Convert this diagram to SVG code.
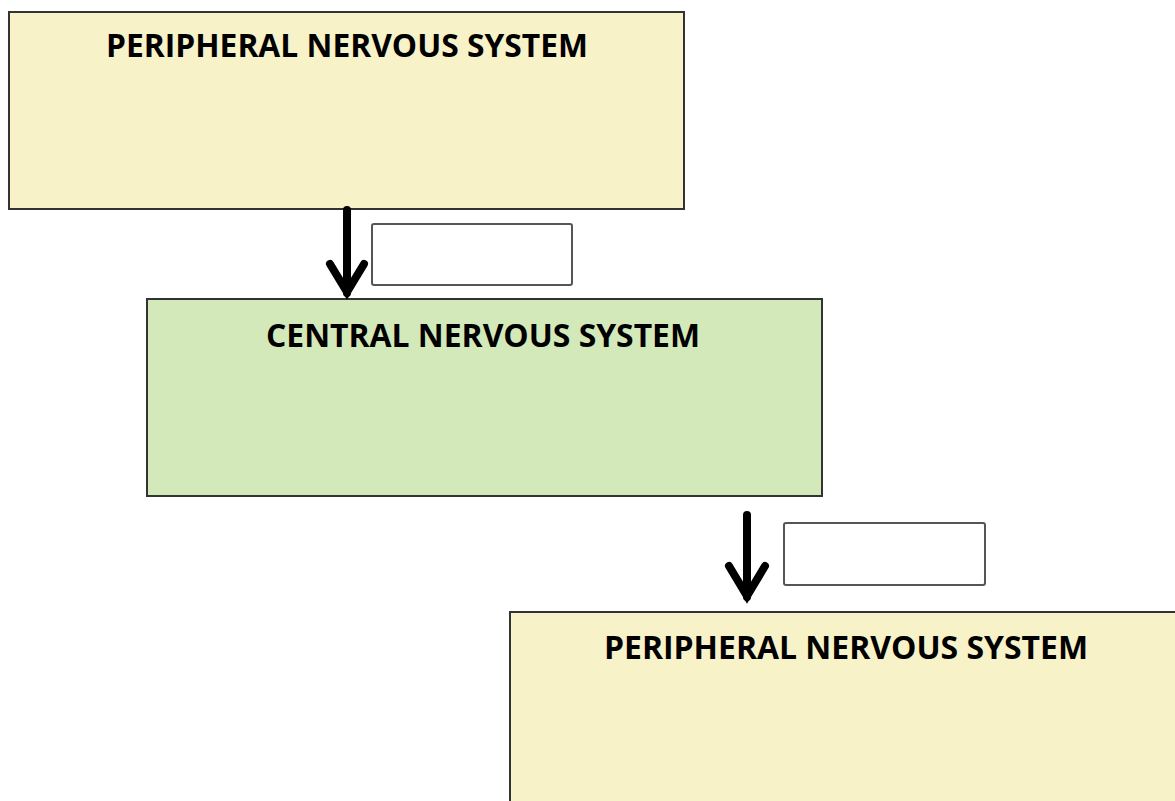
<svg xmlns="http://www.w3.org/2000/svg" width="1175" height="801" viewBox="0 0 1175 801">
<style>
.box{stroke:#333;stroke-width:2}
.pns{fill:#F8F2C9}
.cns{fill:#D4E9B9}
.lbl{fill:#fff;stroke:#555;stroke-width:2}
.t{font-family:"Open Sans","Liberation Sans",sans-serif;font-weight:bold;font-size:32px;fill:#000;text-anchor:middle}
.arr{stroke:#000;stroke-width:8;fill:none;stroke-linecap:round;stroke-linejoin:miter}
</style>
<rect width="1175" height="801" fill="#fff"/>
<g id="pns-top">
<rect class="box pns" x="9" y="12" width="675" height="197"/>
<text class="t" x="347" y="57" textLength="482" lengthAdjust="spacingAndGlyphs">PERIPHERAL NERVOUS SYSTEM</text>
</g>
<g id="cns">
<rect class="box cns" x="147" y="299" width="675" height="197"/>
<text class="t" x="483" y="347" textLength="434" lengthAdjust="spacingAndGlyphs">CENTRAL NERVOUS SYSTEM</text>
</g>
<g id="pns-bottom">
<rect class="box pns" x="510" y="612" width="680" height="200"/>
<text class="t" x="846" y="659" textLength="484" lengthAdjust="spacingAndGlyphs">PERIPHERAL NERVOUS SYSTEM</text>
</g>
<g id="label1">
<rect class="lbl" x="372" y="224" width="200" height="61" rx="2"/>
</g>
<g id="label2">
<rect class="lbl" x="784" y="523" width="201" height="62" rx="2"/>
</g>
<g id="connectors">
<path class="arr" d="M347,210 V293"/>
<path class="arr" d="M330,264 L347,292 L364,264"/>
<path class="arr" d="M747,515 V597"/>
<path class="arr" d="M729,566 L747,596 L765,566"/>
</g>
</svg>
